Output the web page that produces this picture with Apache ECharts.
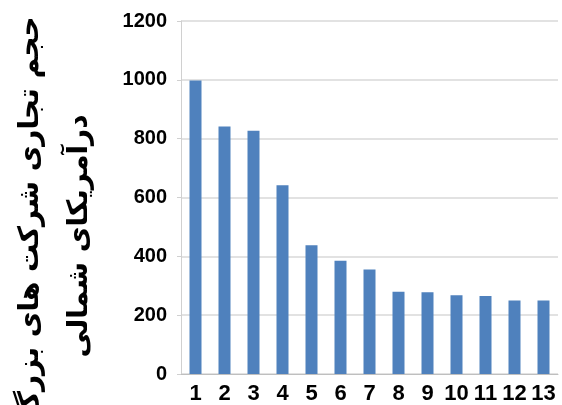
<!DOCTYPE html>
<html>
<head>
<meta charset="utf-8">
<script src="https://cdn.jsdelivr.net/npm/echarts@6/dist/echarts.min.js"></script>
<style>
  html, body { margin: 0; padding: 0; background: #ffffff; }
  #chart { width: 562px; height: 405px; }
</style>
</head>
<body>
<div id="chart"></div>
<script>
// Company rank on the x axis, trade volume on the y axis
const categories = ['1', '2', '3', '4', '5', '6', '7', '8', '9', '10', '11', '12', '13'];
const volumes = [998, 841, 827, 642, 438, 385, 355, 280, 278, 268, 265, 250, 250];
const yTicks = { min: 0, max: 1200, interval: 200 };
const titleLines = ['حجم تجاری شرکت های بزرگ', 'درآمریکای شمالی'];

const chart = echarts.init(document.getElementById('chart'), null, { renderer: 'canvas' });

const titleFont = 'bold 28px "DejaVu Sans", sans-serif';

chart.setOption({
  animation: false,
  backgroundColor: '#ffffff',
  grid: { left: 181, top: 21, right: 4, bottom: 30, containLabel: false },
  xAxis: {
    type: 'category',
    data: categories,
    axisLine: { show: true, lineStyle: { color: '#bfbfbf', width: 1 } },
    axisTick: { show: false },
    axisLabel: {
      interval: 0,
      margin: 9,
      color: '#000000',
      fontFamily: '"Liberation Sans", Arial, sans-serif',
      fontWeight: 'bold',
      fontSize: 22
    }
  },
  yAxis: {
    type: 'value',
    min: yTicks.min,
    max: yTicks.max,
    interval: yTicks.interval,
    axisLine: { show: true, lineStyle: { color: '#d0d0d0', width: 1 } },
    axisTick: { show: true, length: 4, lineStyle: { color: '#d0d0d0' } },
    splitLine: { show: true, lineStyle: { color: '#d9d9d9', width: 1.5 } },
    axisLabel: {
      margin: 14,
      color: '#000000',
      fontFamily: '"Liberation Sans", Arial, sans-serif',
      fontWeight: 'bold',
      fontSize: 20,
      formatter: function (v) { return String(v); }
    }
  },
  graphic: [
    {
      type: 'text',
      x: 31, y: 218,
      rotation: Math.PI / 2,
      style: {
        text: titleLines[0],
        font: titleFont,
        fill: '#000000',
        align: 'center',
        verticalAlign: 'middle'
      }
    },
    {
      type: 'text',
      x: 80, y: 236,
      rotation: Math.PI / 2,
      style: {
        text: titleLines[1],
        font: titleFont,
        fill: '#000000',
        align: 'center',
        verticalAlign: 'middle'
      }
    }
  ],
  series: [{
    type: 'bar',
    data: volumes,
    barWidth: 12,
    itemStyle: { color: '#4f81bd' }
  }]
});
</script>
</body>
</html>
